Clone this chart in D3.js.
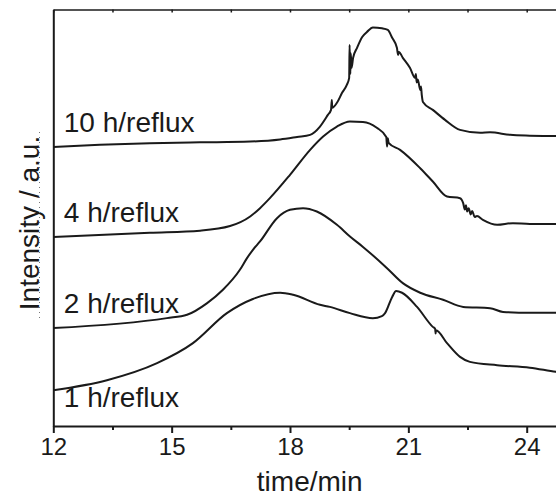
<!DOCTYPE html>
<html>
	<head>
		<meta charset="utf-8">
		<title>GPC traces vs reflux time</title>
		<style>
			body, html {
				margin: 0;
				padding: 0;
				background: #fff;
			}
			text {
				font-family: "Liberation Sans", Arial, sans-serif;
				fill: #1a1a1a;
			}
			.trace {
				fill: none;
				stroke: #1a1a1a;
				stroke-width: 2px;
				stroke-linejoin: round;
			}
			.axis path, .axis line {
				stroke: #1a1a1a;
			}
		</style>
	</head>
	<body>
		<svg id="svg" width="556" height="498"></svg>

		<script src="https://d3js.org/d3.v7.min.js"></script>
		<script>
			// Data: elution time (min) and intensity (a.u., 0-100 over the frame)
			const labels = ['10 h/reflux', '4 h/reflux', '2 h/reflux', '1 h/reflux']

			const time10h = [12.0, 13.18, 14.45, 15.72, 16.99, 17.75, 18.18, 18.51, 18.76, 18.96, 19.04, 19.06, 19.07, 19.19, 19.32, 19.44,
				19.50, 19.51, 19.53, 19.54, 19.56, 19.60, 19.70, 19.83, 19.95, 20.10, 20.33, 20.48, 20.59, 20.71, 20.74, 20.76,
				20.86, 21.04, 21.17, 21.19, 21.21, 21.24, 21.30, 21.32, 21.34, 21.37, 21.62, 21.93, 22.31, 22.82, 23.07, 23.58,
				24.08, 24.74, 25.0]
			const int10h = [67.0, 67.5, 67.9, 68.1, 68.3, 68.8, 69.4, 69.9, 71.9, 74.7, 75.9, 78.3, 76.4, 77.6, 80.0, 81.9,
				83.6, 91.5, 84.5, 89.5, 86.0, 88.4, 90.8, 93.4, 94.6, 95.7, 95.5, 95.1, 93.2, 90.8, 89.1, 89.8,
				88.4, 86.0, 83.6, 84.5, 82.5, 83.2, 80.7, 81.5, 79.5, 77.8, 75.9, 73.5, 71.1, 70.4, 70.5, 69.9,
				69.7, 69.6, 69.6]

			const time4h = [12.0, 14.45, 15.72, 16.48, 16.99, 17.24, 17.49, 18.00, 18.51, 18.84, 19.19, 19.52, 19.85, 20.20, 20.44, 20.46,
				20.48, 20.50, 20.79, 21.30, 21.62, 21.98, 22.31, 22.39, 22.43, 22.46, 22.49, 22.53, 22.58, 22.62, 22.68,
				22.74, 22.89, 23.25, 23.65, 24.08, 24.74, 25.0]
			const int4h = [45.4, 46.4, 46.9, 48.0, 50.3, 52.3, 54.7, 60.3, 66.3, 69.5, 71.9, 73.1, 73.0, 71.6, 69.4, 67.1,
				69.1, 68.0, 66.3, 61.9, 58.7, 55.1, 54.7, 53.5, 52.0, 53.0, 51.5, 52.3, 50.8, 51.6, 50.2,
				50.4, 49.5, 48.3, 48.7, 48.5, 48.5, 48.5]

			const time2h = [12.0, 14.88, 15.39, 15.90, 16.30, 16.73, 16.91, 17.06, 17.24, 17.67, 18.00, 18.33, 18.68, 19.19,
				19.52, 19.85, 20.46, 20.86, 21.30, 21.88, 22.39, 23.07, 23.40, 24.08, 24.74, 25.0]
			const int2h = [23.5, 25.9, 26.7, 29.5, 32.7, 37.5, 40.3, 42.3, 44.3, 49.9, 51.9, 52.3, 51.5, 48.3,
				45.5, 43.0, 37.9, 34.3, 32.0, 30.3, 28.6, 28.3, 27.4, 27.2, 27.2, 27.2]

			const time1h = [12.0, 13.36, 14.63, 15.54, 16.40, 17.06, 17.75, 18.08, 18.76, 19.01, 19.52, 20.10, 20.33, 20.41,
				20.59, 20.69, 20.84, 21.22, 21.62, 21.68, 21.69, 21.70, 21.98, 22.31, 22.56, 23.25, 24.08, 24.74, 25.0]
			const int1h = [8.6, 11.0, 15.1, 19.9, 27.1, 30.5, 32.0, 31.5, 29.1, 28.6, 27.1, 25.9, 26.4, 27.1,
				31.0, 32.4, 32.0, 28.6, 23.8, 23.3, 22.2, 23.0, 19.9, 16.6, 15.4, 14.6, 14.0, 13.0, 12.7]

			const majorTicks = [12, 15, 18, 21, 24]
			const minorTicks = [13.5, 16.5, 19.5, 22.5]

			// Put the series together
			const series = [
				{ name: labels[0], t: time10h, v: int10h, below: false },
				{ name: labels[1], t: time4h, v: int4h, below: false },
				{ name: labels[2], t: time2h, v: int2h, below: false },
				{ name: labels[3], t: time1h, v: int1h, below: true }
			].map(s => ({ ...s, points: s.t.map((t, i) => [t, s.v[i]]) }))

			// Frame: the right edge of the plot sits just outside the window
			const plotLeft = 53.3
			const plotTop = 9.5
			const plotBottom = 426

			const x = d3.scaleLinear().domain([12, 25]).range([plotLeft, plotLeft + 13 * 39.45])
			const y = d3.scaleLinear().domain([0, 100]).range([plotBottom, plotTop])

			const svg = d3.select('#svg')

			// Traces
			const line = d3.line()
				.curve(d3.curveMonotoneX)
				.x(d => x(d[0]))
				.y(d => y(d[1]))

			svg.selectAll('.trace')
				.data(series)
				.enter()
				.append('path')
				.attr('class', 'trace')
				.attr('d', d => line(d.points))

			// Labels sit just above the start of each trace (the 1 h one below)
			svg.selectAll('.label')
				.data(series)
				.enter()
				.append('text')
				.attr('class', 'label')
				.attr('x', x(12) + 10.5)
				.attr('y', d => y(d.v[0]) + (d.below ? 17 : -15))
				.style('font-size', '28px')
				.text(d => d.name)

			// Bottom axis: major ticks with labels, minor ticks without
			svg.append('g')
				.attr('class', 'axis')
				.attr('transform', `translate(0,${plotBottom})`)
				.call(d3.axisBottom(x).tickValues(minorTicks).tickSize(4).tickFormat(''))
				.call(g => g.select('.domain').remove())
				.selectAll('line').attr('stroke-width', 2)

			const xAxis = svg.append('g')
				.attr('class', 'axis')
				.attr('transform', `translate(0,${plotBottom})`)
				.call(d3.axisBottom(x).tickValues(majorTicks).tickSize(7).tickSizeOuter(0).tickPadding(5).tickFormat(d3.format('d')))
			xAxis.select('.domain').attr('stroke-width', 2)
			xAxis.selectAll('line').attr('stroke-width', 2)
			xAxis.selectAll('text')
				.style('font-size', '24px')
				.attr('fill', '#1a1a1a')

			// Top axis: short inward ticks, no labels
			const topAxis = svg.append('g')
				.attr('class', 'axis')
				.attr('transform', `translate(0,${plotTop})`)
				.call(d3.axisTop(x).tickValues(majorTicks.concat(minorTicks)).tickSizeInner(-3).tickSizeOuter(0).tickFormat(''))
			topAxis.select('.domain').attr('stroke-width', 1.5)
			topAxis.selectAll('line').attr('stroke-width', 1.5)

			// Left axis: line only
			svg.append('g')
				.attr('class', 'axis')
				.attr('transform', `translate(${plotLeft},0)`)
				.call(d3.axisLeft(y).tickValues([]).tickSizeOuter(0))
				.select('.domain').attr('stroke-width', 2)

			// Axis titles; the x title is centred on the full axis, which runs past the window
			svg.append('text')
				.attr('x', (x.range()[0] + x.range()[1]) / 2)
				.attr('y', 491)
				.attr('text-anchor', 'middle')
				.style('font-size', '28px')
				.text('time/min')

			svg.append('text')
				.attr('transform', `translate(39,223) rotate(-90)`)
				.attr('text-anchor', 'middle')
				.style('font-size', '28px')
				.text('Intensity / a.u.')

			// dotted rule along the y title baseline
			svg.append('line')
				.attr('x1', 39.5).attr('x2', 39.5)
				.attr('y1', 132).attr('y2', 320)
				.attr('stroke', '#777')
				.attr('stroke-width', 1)
				.attr('stroke-dasharray', '1,4')
		</script>
	</body>
</html>
